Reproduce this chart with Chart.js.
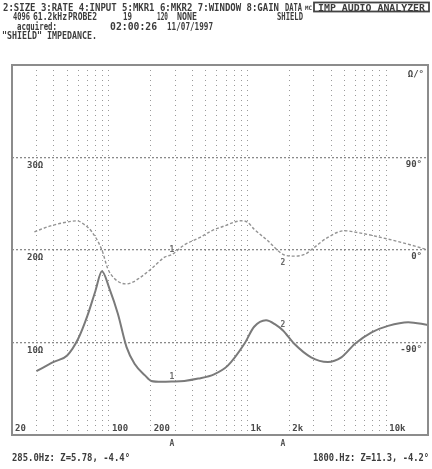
<!DOCTYPE html>
<html><head><meta charset="utf-8">
<script src="https://cdn.jsdelivr.net/npm/chart.js@4/dist/chart.umd.min.js"></script>
<style>html,body{margin:0;padding:0;background:#fff;}#wrap{width:432px;height:469px;position:relative;}</style>
</head><body><div id="wrap"><canvas id="c" width="432" height="469"></canvas></div>
<script>
// ---- data ----
const magFreq = [30, 40, 50, 60, 70, 80, 89, 101, 116, 134, 153, 182, 202, 240, 285, 350, 441, 573, 720, 948, 1115, 1358, 1600, 1800, 2170, 2870, 3790, 4740, 5950, 7840, 10300, 14400, 20000];
const magOhm  = [6.9, 7.9, 8.6, 10.4, 12.9, 15.6, 17.7, 15.8, 13.1, 9.5, 7.7, 6.45, 5.84, 5.75, 5.78, 5.85, 6.1, 6.56, 7.5, 9.86, 11.7, 12.4, 11.9, 11.3, 9.86, 8.4, 7.9, 8.4, 9.86, 11.1, 11.8, 12.2, 11.9];
const phFreq  = [29, 38, 48, 59, 66, 75, 89, 98, 110, 125, 134, 150, 163, 202, 252, 285, 350, 450, 550, 700, 790, 895, 1000, 1115, 1400, 1800, 2170, 2600, 3030, 3790, 5000, 6200, 10300, 15900, 20000];
const phDeg   = [17.7, 23.5, 26.8, 28.4, 25, 18, 0, -18, -28, -32.5, -33, -31, -28, -18.4, -7, -4.4, 5, 12, 18.7, 24, 26.8, 28.4, 27, 20.3, 9, -4.2, -6, -4, 2.6, 12.3, 18.7, 17, 10.6, 4, 0];
const markerFreq = [285, 1800];
const markerOhm  = [5.78, 11.3];
const markerDeg  = [-4.4, -4.2];
const markerText = ['285.0Hz', '1800.Hz'];
const xGrid = [30,40,50,60,70,80,90,100,200,300,400,500,600,700,800,900,1000,2000,3000,4000,5000,6000,7000,8000,9000,10000];
const xTickVals = [20, 100, 200, 1000, 2000, 10000];
const xTickText = ['20', '100', '200', '1k', '2k', '10k'];
const ohmTicks = [10, 20, 30];
const degTicks = [-90, 0, 90];

const MONO = '"DejaVu Sans Mono", "Liberation Mono", monospace';
const INK = '#3c3c3c';

function fitText(ctx, txt, x, y, w) {
  const m = ctx.measureText(txt).width;
  ctx.save();
  ctx.translate(x, y);
  ctx.scale(w / m, 1);
  ctx.textAlign = 'left';
  ctx.fillText(txt, 0, 0);
  ctx.restore();
}

const overlay = {
  id: 'overlay',
  afterDraw(chart) {
    const ctx = chart.ctx, a = chart.chartArea;
    const xs = chart.scales.x, ys = chart.scales.y, ps = chart.scales.y2;
    ctx.save();
    // frame
    ctx.strokeStyle = '#8c8c8c'; ctx.lineWidth = 2; ctx.setLineDash([]);
    ctx.strokeRect(a.left, a.top, a.right - a.left, a.bottom - a.top);
    ctx.fillStyle = INK; ctx.textBaseline = 'alphabetic';
    // header
    ctx.font = 'bold 10px ' + MONO;
    fitText(ctx, '2:SIZE 3:RATE 4:INPUT 5:MKR1 6:MKR2 7:WINDOW 8:GAIN', 3, 11, 276);
    fitText(ctx, 'DATA', 285, 11, 17);
    ctx.font = 'bold 6px ' + MONO; fitText(ctx, 'MC', 305, 10, 7);
    ctx.strokeStyle = '#444'; ctx.lineWidth = 1.8;
    ctx.strokeRect(314, 2.5, 115, 9);
    ctx.font = 'bold 9px ' + MONO;
    fitText(ctx, 'IMP AUDIO ANALYZER', 318, 10.5, 107);
    ctx.font = 'bold 10px ' + MONO;
    [['4096',13,17],['61.2kHz',33,34],['PROBE2',68,29],['19',123,9],['120',157,11],['NONE',177,20],['SHIELD',277,26]].forEach(t => fitText(ctx, t[0], t[1], 20, t[2]));
    [['acquired:',17,40],['02:00:26',110,47],['11/07/1997',167,46]].forEach(t => fitText(ctx, t[0], t[1], 29.5, t[2]));
    fitText(ctx, '"SHIELD" IMPEDANCE.', 2, 38.5, 95);
    // axis labels inside plot
    ctx.font = 'bold 9px ' + MONO; ctx.fillStyle = '#4a4a4a';
    ohmTicks.forEach(v => { ctx.textAlign = 'left'; ctx.fillText(v + 'Ω', a.left + 15, ys.getPixelForValue(v) + 10); });
    degTicks.forEach(v => { ctx.textAlign = 'right'; ctx.fillText(v + '°', a.right - 6, ps.getPixelForValue(v) + 9); });
    ctx.textAlign = 'right'; ctx.fillText('Ω/°', a.right - 4, a.top + 12);
    ctx.textAlign = 'left';
    xTickVals.forEach((v, i) => ctx.fillText(xTickText[i], xs.getPixelForValue(v) + 3, a.bottom - 4));
    // markers
    ctx.font = 'bold 8px ' + MONO; ctx.fillStyle = '#6a6a6a'; ctx.textAlign = 'center';
    markerFreq.forEach((f, i) => {
      const px = xs.getPixelForValue(f);
      ctx.fillText(String(i + 1), px, ys.getPixelForValue(markerOhm[i]) - 3);
      ctx.fillText(String(i + 1), px, ps.getPixelForValue(markerDeg[i]) + (i ? 11 : -3));
      ctx.fillStyle = '#555'; ctx.fillText('A', px, a.bottom + 11); ctx.fillStyle = '#6a6a6a';
    });
    // marker readouts
    ctx.font = 'bold 10px ' + MONO; ctx.fillStyle = INK;
    const rd = i => markerText[i] + ': Z=' + markerOhm[i].toFixed(i ? 1 : 2) + ', ' + markerDeg[i].toFixed(1) + '°';
    fitText(ctx, rd(0), 12, 461, 118);
    fitText(ctx, rd(1), 313, 461, 116);
    ctx.restore();
  }
};

new Chart(document.getElementById('c'), {
  type: 'line',
  data: {
    datasets: [
      { label: 'Z', data: magFreq.map((f, i) => ({x: f, y: magOhm[i]})), yAxisID: 'y',
        borderColor: '#7a7a7a', borderWidth: 2, pointRadius: 0, cubicInterpolationMode: 'monotone', fill: false },
      { label: 'phase', data: phFreq.map((f, i) => ({x: f, y: phDeg[i]})), yAxisID: 'y2',
        borderColor: '#939393', borderWidth: 1.4, borderDash: [3, 2], pointRadius: 0, cubicInterpolationMode: 'monotone', fill: false }
    ]
  },
  options: {
    responsive: false, animation: false, devicePixelRatio: 1,
    layout: { padding: { left: 12, top: 65, right: 4, bottom: 34 } },
    plugins: { legend: { display: false }, tooltip: { enabled: false } },
    scales: {
      x: { type: 'logarithmic', min: 20, max: 20000,
        afterBuildTicks: s => { s.ticks = xGrid.map(v => ({value: v})); },
        ticks: { display: false, autoSkip: false },
        grid: { drawTicks: false, color: '#9a9a9a', lineWidth: 1 },
        border: { display: false, dash: [1, 4] } },
      y: { type: 'linear', position: 'left', min: 0, max: 40,
        afterBuildTicks: s => { s.ticks = ohmTicks.map(v => ({value: v})); },
        ticks: { display: false },
        grid: { drawTicks: false, color: '#8a8a8a', lineWidth: 1.3 },
        border: { display: false, dash: [2, 2] } },
      y2: { type: 'linear', position: 'right', min: -180, max: 180,
        ticks: { display: false }, grid: { display: false, drawTicks: false }, border: { display: false } }
    }
  },
  plugins: [overlay]
});
</script></body></html>
